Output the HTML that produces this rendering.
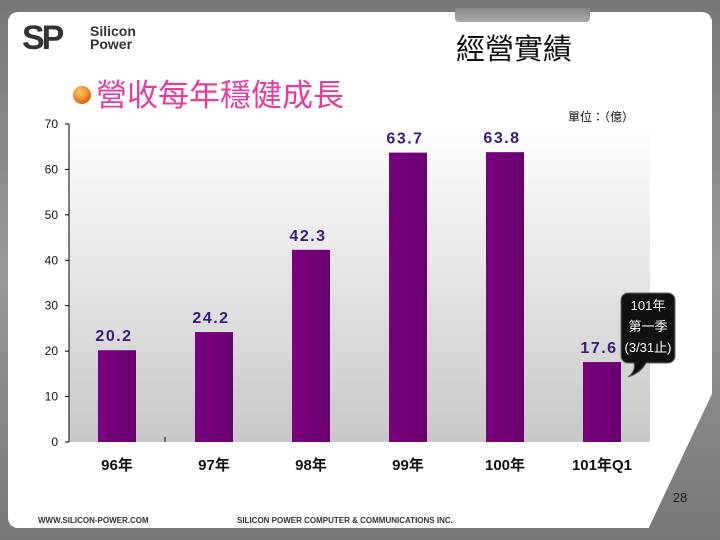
<!DOCTYPE html>
<html><head><meta charset="utf-8"><style>
body{margin:0;width:720px;height:540px;overflow:hidden;background:linear-gradient(#777,#999 50%,#777);font-family:"Liberation Sans","Noto Sans CJK TC",sans-serif;}
#panel{position:absolute;left:8px;top:12px;width:704px;height:516px;background:#fff;border-radius:10px;clip-path:polygon(0 0,100% 0,100% 74%,91% 100%,0 100%);}
#tab{position:absolute;left:455px;top:8px;width:135px;height:14px;background:linear-gradient(#888,#aaa);border-radius:0 0 4px 4px;}
svg{position:absolute;left:0;top:0}
</style></head><body>
<div id="panel"></div>
<div id="tab"></div>
<svg width="720" height="540">
<defs><linearGradient id="bg" x1="0" y1="0" x2="0" y2="1"><stop offset="0" stop-color="#fff"/><stop offset="1" stop-color="#c8c8c8"/></linearGradient>
<linearGradient id="bar" x1="0" y1="0" x2="1" y2="0"><stop offset="0" stop-color="#7a0080"/><stop offset="1" stop-color="#6a0070"/></linearGradient>
<radialGradient id="dot" cx="0.4" cy="0.35" r="0.7"><stop offset="0" stop-color="#ffd070"/><stop offset="1" stop-color="#e05a00"/></radialGradient></defs>
<g>
<text x="22" y="49" font-size="34" font-weight="bold" fill="#333" letter-spacing="-3">SP</text>
<text x="90" y="36" font-size="14" font-weight="bold" fill="#333">Silicon</text>
<text x="90" y="49" font-size="14" font-weight="bold" fill="#333">Power</text></g>
<text x="456" y="59" font-size="29" fill="#111">經營實績</text>
<circle cx="82" cy="95" r="9" fill="url(#dot)"/>
<text x="96" y="106" font-size="31" fill="#e63c9e">營收每年穩健成長</text>
<text x="568" y="121" font-size="12" fill="#111">單位：（億）</text>
<rect x="69" y="124" width="581" height="318" fill="url(#bg)"/>
<g id="axis"></g><g id="bars"></g>
<g>
<path d="M628 293 h40 a7 7 0 0 1 7 7 v56 a7 7 0 0 1 -7 7 h-22 q-5 10 -18 14 q8 -6 6 -14 h-6 a7 7 0 0 1 -7 -7 v-56 a7 7 0 0 1 7 -7z" fill="#111" stroke="#666"/>
<text x="648" y="310" font-size="13" fill="#fff" text-anchor="middle">101年</text>
<text x="648" y="331" font-size="13" fill="#fff" text-anchor="middle">第一季</text>
<text x="648" y="352" font-size="13" fill="#fff" text-anchor="middle">(3/31止)</text></g>
<text x="680" y="502" font-size="13" fill="#222" text-anchor="middle">28</text>
<text x="38" y="523" font-size="8" font-weight="bold" fill="#333">WWW.SILICON-POWER.COM</text>
<text x="237" y="523" font-size="8" font-weight="bold" fill="#333">SILICON POWER COMPUTER &amp; COMMUNICATIONS INC.</text>
</svg>
<script>
const categories=["96年","97年","98年","99年","100年","101年Q1"];
const values=[20.2,24.2,42.3,63.7,63.8,17.6];
const ticks=[0,10,20,30,40,50,60,70];
const NS="http://www.w3.org/2000/svg";
const y0=442,yTop=124,vmax=70,x0=69,step=97,bw=38;
const y=v=>y0-(v/vmax)*(y0-yTop);
const xc=i=>x0+48+i*step;
function mk(t,a,p){const e=document.createElementNS(NS,t);for(const k in a)e.setAttribute(k,a[k]);p.appendChild(e);return e;}
const ax=document.getElementById('axis'),bg=document.getElementById('bars');
const al=mk('line',{x1:x0,y1:yTop,x2:x0,y2:y0,stroke:'#000'},ax);


ticks.forEach(t=>{
 const l=mk('line',{x1:x0-4,x2:x0,y1:y(t),y2:y(t),stroke:'#000'},ax);
 
 
 const tx=mk('text',{x:58,y:y(t)+4,'font-size':12,'text-anchor':'end',fill:'#111'},ax);tx.textContent=t;
 
 
});
const dv=mk('line',{x1:165,x2:165,y1:y0-5,y2:y0,stroke:'#000'},ax);


categories.forEach((c,i)=>{
 const r=mk('rect',{x:xc(i)-bw/2,y:y(values[i]),width:bw,height:y0-y(values[i]),fill:'url(#bar)'},bg);
 
 
 const lx=xc(i)-3;
 const v=mk('text',{x:lx,y:y(values[i])-9,'font-size':16,'font-weight':'bold','text-anchor':'middle',fill:'#3a1a7a','letter-spacing':'1.5'},bg);v.textContent=values[i].toFixed(1);
 
 
 const cl=mk('text',{x:xc(i),y:470,'font-size':15,'font-weight':'bold','text-anchor':'middle',fill:'#111'},bg);cl.textContent=c;
 
 
});
</script>
</body></html>
